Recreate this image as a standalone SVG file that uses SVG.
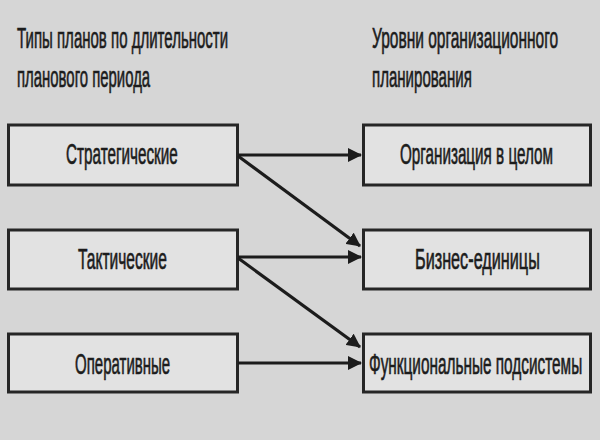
<svg xmlns="http://www.w3.org/2000/svg" width="600" height="440" viewBox="0 0 600 440">
<defs>
<marker id="ah" markerWidth="14" markerHeight="14" refX="13" refY="7" orient="auto" markerUnits="userSpaceOnUse">
<path d="M0,0 L14,7 L0,14 Z" fill="#1c1c1c"/>
</marker>
<style>
.bg{fill:#d6d6d6}
.box{fill:#e2e2e2;stroke:#262626;stroke-width:3}
.t{font-family:"Liberation Sans","Arial",sans-serif;font-size:30px;fill:#1c1c1c;stroke:#1c1c1c;stroke-width:0.7}
.c{stroke:#1c1c1c;stroke-width:3.2;fill:none;marker-end:url(#ah)}
</style>
</defs>
<rect class="bg" x="0" y="0" width="600" height="440"/>
<g id="header-left">
<text class="t" transform="translate(17,48) scale(0.52,1)" textLength="406" lengthAdjust="spacingAndGlyphs">Типы планов по длительности</text>
<text class="t" transform="translate(17,87) scale(0.52,1)" textLength="256" lengthAdjust="spacingAndGlyphs">планового периода</text>
</g>
<g id="header-right">
<text class="t" transform="translate(372,48) scale(0.52,1)" textLength="358" lengthAdjust="spacingAndGlyphs">Уровни организационного</text>
<text class="t" transform="translate(372,87) scale(0.52,1)" textLength="192" lengthAdjust="spacingAndGlyphs">планирования</text>
</g>
<g id="strategic">
<rect class="box" x="8.5" y="125" width="229" height="60"/>
<text class="t" transform="translate(66,164) scale(0.52,1)" textLength="215" lengthAdjust="spacingAndGlyphs">Стратегические</text>
</g>
<g id="tactical">
<rect class="box" x="8.5" y="230" width="229" height="59"/>
<text class="t" transform="translate(78,269) scale(0.52,1)" textLength="171" lengthAdjust="spacingAndGlyphs">Тактические</text>
</g>
<g id="operational">
<rect class="box" x="8.5" y="334" width="229" height="58"/>
<text class="t" transform="translate(75,374) scale(0.52,1)" textLength="183" lengthAdjust="spacingAndGlyphs">Оперативные</text>
</g>
<g id="org">
<rect class="box" x="363.5" y="125" width="227" height="60"/>
<text class="t" transform="translate(400,164) scale(0.52,1)" textLength="294" lengthAdjust="spacingAndGlyphs">Организация в целом</text>
</g>
<g id="business">
<rect class="box" x="363.5" y="230" width="227" height="59"/>
<text class="t" transform="translate(415,269) scale(0.52,1)" textLength="240" lengthAdjust="spacingAndGlyphs">Бизнес-единицы</text>
</g>
<g id="functional">
<rect class="box" x="363.5" y="334" width="227" height="58"/>
<text class="t" transform="translate(369,374) scale(0.52,1)" textLength="410" lengthAdjust="spacingAndGlyphs">Функциональные подсистемы</text>
</g>
<g id="connectors">
<line class="c" x1="238" y1="155" x2="361" y2="155"/>
<line class="c" x1="238" y1="156" x2="360" y2="246"/>
<line class="c" x1="238" y1="257" x2="361" y2="257"/>
<line class="c" x1="238" y1="258" x2="360" y2="347"/>
<line class="c" x1="238" y1="363" x2="361" y2="363"/>
</g>
</svg>
